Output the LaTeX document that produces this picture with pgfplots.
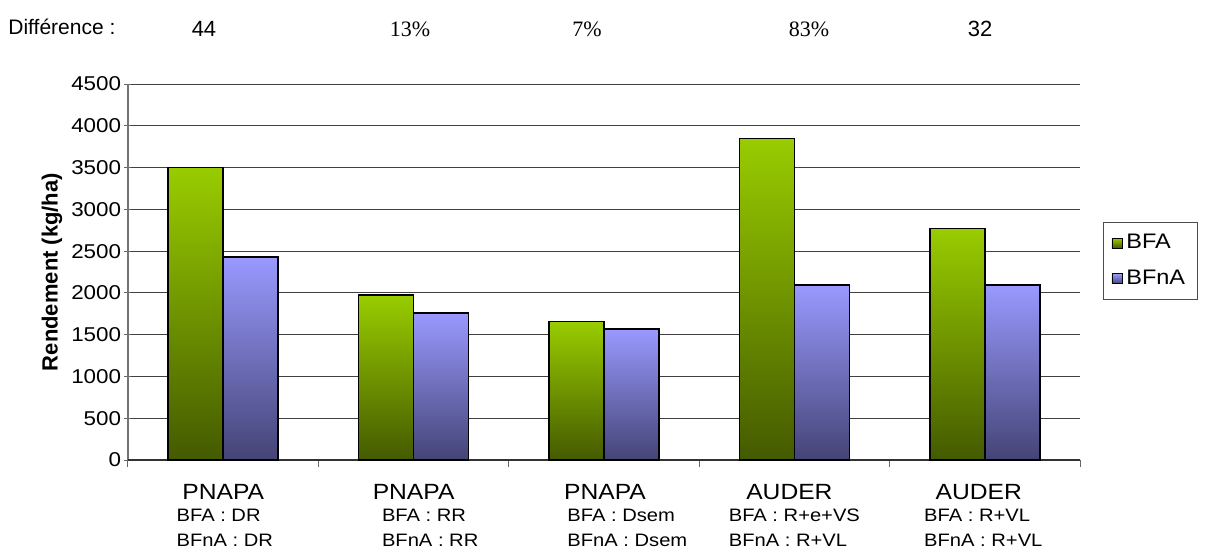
\documentclass[border=0pt]{standalone}
\usepackage{pgfplots}
\pgfplotsset{compat=1.18}
\usepackage{fontspec}
\setmainfont{Liberation Sans}
\newfontfamily\chartfont[FakeStretch=1.12]{Liberation Sans}
\newfontfamily\serifnum{Liberation Serif}
\definecolor{gtop}{RGB}{153,204,0}
\definecolor{gbot}{RGB}{68,90,0}
\definecolor{btop}{RGB}{153,153,255}
\definecolor{bbot}{RGB}{68,68,118}
\pgfplotsset{
  gbar/.style={ybar, bar shift=-0.1445, draw=black, line width=0.75pt, top color=gtop, bottom color=gbot},
  bbar/.style={ybar, bar shift=0.1445, draw=black, line width=0.75pt, top color=btop, bottom color=bbot},
}
\begin{document}
\begin{tikzpicture}
\useasboundingbox (-64pt,-46.5pt) rectangle (540pt,230pt);
\begin{axis}[
  at={(0,0)}, anchor=south west,
  scale only axis, width=476pt, height=188pt,
  xmin=-0.5, xmax=4.5, ymin=0, ymax=4500,
  ytick={0,500,...,4500},
  xtick={0,1,2,3,4}, xticklabels={},
  major x tick style={draw=none},
  minor xtick={-0.5,0.5,1.5,2.5,3.5,4.5},
  minor x tick style={draw=black!60, line width=0.5pt},
  tick align=outside,
  major tick length=3.5pt, minor tick length=3.5pt,
  axis x line=bottom, axis y line=left,
  xtick pos=bottom, ytick pos=left,
  axis line style={-, draw=none},
  xmajorgrids=false, xminorgrids=false,
  ymajorgrids, grid style={draw=black!75, line width=0.5pt},
  ytick style={draw=black!60, line width=0.5pt},
  yticklabel style={font=\chartfont\fontsize{10}{12}\selectfont, inner sep=0pt, xshift=-1.5pt},
  /pgf/number format/assume math mode=true,
  /pgf/number format/1000 sep={},
  ybar, bar width=0.289,
  clip=false,
  legend style={at={(1.0242,0.6330)}, anchor=north west, draw=black!70, line width=0.5pt,
    font=\chartfont\fontsize{10.5}{12}\selectfont, row sep=5pt, inner xsep=4pt, inner ysep=4pt,
    cells={anchor=west}},
  legend image code/.code={\draw[#1, line width=0.4pt] (0pt,-2.5pt) rectangle (5pt,2.5pt);},
]
\draw[black!55, line width=0.6pt] (rel axis cs:0,0) -- (rel axis cs:0,1);
\draw[black!80, line width=0.6pt] (rel axis cs:0,0) -- (rel axis cs:1,0);
\addplot[gbar] coordinates {(0,3500)}; \addlegendentry{BFA}
\addplot[bbar] coordinates {(0,2430)}; \addlegendentry{BFnA}
\addplot[gbar, forget plot] coordinates {(1,1975)};
\addplot[gbar, forget plot] coordinates {(2,1655)};
\addplot[gbar, forget plot] coordinates {(3,3850)};
\addplot[gbar, forget plot] coordinates {(4,2770)};
\addplot[bbar, forget plot] coordinates {(1,1760)};
\addplot[bbar, forget plot] coordinates {(2,1568)};
\addplot[bbar, forget plot] coordinates {(3,2094)};
\addplot[bbar, forget plot] coordinates {(4,2094)};
% category labels
\def\catA{\chartfont\fontsize{11}{12}\selectfont}
\def\catB{\chartfont\fontsize{9}{10}\selectfont}
\node[anchor=base, font=\catA] at (axis cs:0,0) [yshift=-19.5pt] {PNAPA};
\node[anchor=base, font=\catA] at (axis cs:1,0) [yshift=-19.5pt] {PNAPA};
\node[anchor=base, font=\catA] at (axis cs:2,0) [yshift=-19.5pt, xshift=0.5pt] {PNAPA};
\node[anchor=base, font=\catA] at (axis cs:3,0) [yshift=-19.5pt, xshift=-2.5pt] {AUDER};
\node[anchor=base, font=\catA] at (axis cs:4,0) [yshift=-19.5pt, xshift=-3pt] {AUDER};
\node[anchor=base west, inner sep=0pt, font=\catB] at (axis cs:0,0) [yshift=-30.5pt, xshift=-23.5pt] {BFA : DR};
\node[anchor=base west, inner sep=0pt, font=\catB] at (axis cs:0,0) [yshift=-43pt, xshift=-23.5pt] {BFnA : DR};
\node[anchor=base west, inner sep=0pt, font=\catB] at (axis cs:1,0) [yshift=-30.5pt, xshift=-16pt] {BFA : RR};
\node[anchor=base west, inner sep=0pt, font=\catB] at (axis cs:1,0) [yshift=-43pt, xshift=-16pt] {BFnA : RR};
\node[anchor=base west, inner sep=0pt, font=\catB] at (axis cs:2,0) [yshift=-30.5pt, xshift=-18.5pt] {BFA : Dsem};
\node[anchor=base west, inner sep=0pt, font=\catB] at (axis cs:2,0) [yshift=-43pt, xshift=-18.5pt] {BFnA : Dsem};
\node[anchor=base west, inner sep=0pt, font=\catB] at (axis cs:3,0) [yshift=-30.5pt, xshift=-33pt] {BFA : R+e+VS};
\node[anchor=base west, inner sep=0pt, font=\catB] at (axis cs:3,0) [yshift=-43pt, xshift=-33pt] {BFnA : R+VL};
\node[anchor=base west, inner sep=0pt, font=\catB] at (axis cs:4,0) [yshift=-30.5pt, xshift=-30.5pt] {BFA : R+VL};
\node[anchor=base west, inner sep=0pt, font=\catB] at (axis cs:4,0) [yshift=-43pt, xshift=-30.5pt] {BFnA : R+VL};
\end{axis}
% y label
\node[rotate=90, anchor=center, inner sep=0pt] at (-38pt,94pt)
  {\bfseries\fontsize{11}{13}\selectfont Rendement (kg/ha)};
% top annotations
\node[anchor=base west, inner sep=0pt, font=\fontsize{10.5}{12}\selectfont] at (-60pt,213pt) {Différence :};
\node[anchor=base, inner sep=0pt, font=\fontsize{11}{12}\selectfont] at (38pt,212pt) {44};
\node[anchor=base, inner sep=0pt, font=\serifnum\fontsize{11}{12}\selectfont] at (141pt,212pt) {13\%};
\node[anchor=base, inner sep=0pt, font=\serifnum\fontsize{11}{12}\selectfont] at (229.5pt,212pt) {7\%};
\node[anchor=base, inner sep=0pt, font=\serifnum\fontsize{11}{12}\selectfont] at (340.5pt,212pt) {83\%};
\node[anchor=base, inner sep=0pt, font=\fontsize{11}{12}\selectfont] at (426pt,212pt) {32};
\end{tikzpicture}
\end{document}
